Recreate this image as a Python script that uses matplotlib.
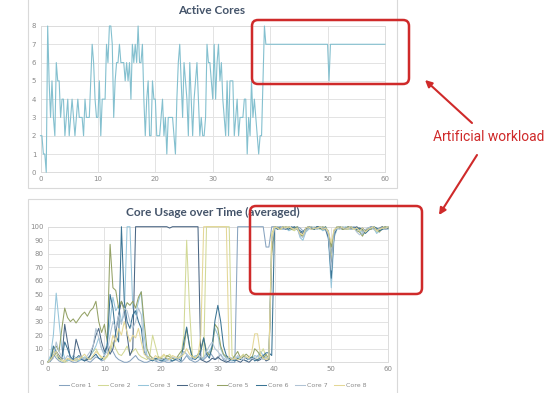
import numpy as np
import matplotlib
matplotlib.use("Agg")
import matplotlib.pyplot as plt
from matplotlib.patches import Rectangle, FancyBboxPatch, FancyArrowPatch
from matplotlib.transforms import IdentityTransform

#######################################
#### Data
#######################################
# Active cores, sampled every 0.25 s
ActiveStep = 0.25
ActiveCores = [
   2,2,1,1,0,8,5,3,5,3,2,6,5,5,3,4,4,2,3,4,
   2,3,4,3,2,3,4,3,3,3,2,4,3,3,3,5,7,6,4,3,
   3,5,2,4,4,4,7,6,8,8,7,3,5,6,6,7,6,6,6,5,
   6,5,6,4,7,6,7,6,8,6,6,7,4,2,4,5,2,2,5,4,
   4,2,2,2,3,4,2,3,1,3,3,3,3,2,1,4,6,7,5,3,
   6,5,4,2,6,4,2,4,5,6,4,2,3,2,2,3,7,6,6,5,
   4,7,4,6,7,5,6,4,3,2,5,2,5,5,5,2,3,4,2,3,
   3,3,4,4,1,3,2,5,3,4,3,2,1,2,2,5,8,
   7,7,7,7,7,7,7,7,7,7,7,7,7,7,7,7,7,7,7,7,7,7,
   7,7,7,7,7,7,7,7,7,7,7,7,7,7,7,7,7,7,7,7,7,7,
   5,
   7,7,7,7,7,7,7,7,7,7,7,7,7,7,7,7,7,7,7,7,
   7,7,7,7,7,7,7,7,7,7,7,7,7,7,7,7,7,7,7,
]

# Core usage (%), sampled every 0.5 s
UsageStep = 0.5
CoreNames = ["Core 1", "Core 2", "Core 3", "Core 4", "Core 5", "Core 6", "Core 7", "Core 8"]
Core1 = [0,2,6,3,1,0,0,2,1,0, 0,1,3,2,1,0,2,4,3,1, 2,5,12,8,4,2,1,0,0,1,
         3,5,2,1,0,0,1,2,1,0, 0,1,0,0,1,2,1,0,2,5, 2,1,0,1,3,2,4,8,5,2,
         3,6,2,1,0,0,0,100,100,100, 100,100,100,100,100,100,100,85,85,100,
         100,99,100,98,99,100,99,98,100,99, 97,98,100,99,99,100,99,98,99,97,
         80,96,99,100,99,99,98,99,100,99, 99,96,97,99,100,99,97,98,99,100, 99]
Core2 = [0,3,8,5,2,1,0,1,3,2, 1,2,4,3,2,5,8,10,6,3, 2,4,8,15,10,6,5,8,12,6,
         8,10,6,4,3,2,5,20,12,4, 3,5,4,6,3,2,3,5,20,90, 40,5,3,4,3,4,100,100,100,100,
         100,100,100,100,100,5,3,2,4,6, 3,2,4,3,2,6,10,4,2,95,
         100,99,98,100,99,100,98,97,99,95, 93,98,99,100,99,99,98,99,100,96,
         75,97,99,99,100,99,98,99,98,99, 99,97,96,98,99,98,96,99,100,99, 100]
Core3 = [0,5,20,51,30,10,3,1,2,5, 3,1,2,4,3,5,8,12,18,10, 6,15,30,48,38,42,30,35,100,100,
         40,35,45,52,20,5,3,2,1,3, 2,1,2,3,1,2,4,3,8,6, 3,2,5,4,2,3,6,8,12,25,
         20,10,5,3,2,1,2,4,3,2, 1,3,2,5,4,8,5,3,4,90,
         98,100,99,98,99,97,98,100,99,92, 90,96,98,99,100,98,99,97,98,90,
         55,92,98,99,99,100,99,98,99,98, 97,94,96,99,98,99,95,97,98,99, 98]
Core4 = [0,1,4,8,5,2,28,15,3,2, 17,10,3,1,2,5,12,20,25,15, 8,12,6,10,22,35,45,40,20,5,
         10,100,100,100,100,100,100,100,100,100, 100,100,100,99,100,100,100,100,100,100,
         100,100,100,100,2,1,0,1,3,2, 4,2,1,0,1,3,2,1,0,2, 1,0,2,3,1,2,4,1,2,85,
         100,99,100,99,98,100,99,100,98,96, 95,99,100,98,99,100,100,99,98,92,
         70,94,99,100,98,99,100,99,99,100, 98,99,97,98,100,99,98,99,100,98, 99]
Core5 = [0,2,10,12,8,25,40,33,30,32, 29,32,35,37,34,38,40,45,30,22, 28,15,87,55,53,40,45,38,44,42,
         45,40,48,52,30,10,5,3,2,4, 3,2,5,4,3,2,5,8,10,25, 12,4,3,6,10,18,8,5,10,28,
         25,12,6,4,3,2,5,8,3,4, 6,4,3,10,8,5,3,6,2,80,
         99,100,98,99,100,99,98,99,100,94, 93,97,99,100,98,99,99,100,99,95,
         85,97,100,99,98,99,100,98,99,97, 96,93,97,99,98,100,98,96,99,100, 99]
Core6 = [0,1,12,8,3,2,15,10,4,2, 3,5,2,1,3,2,4,6,3,2, 5,12,50,40,20,15,100,45,30,25,
         35,38,30,25,8,4,2,1,3,2, 1,2,3,2,1,2,3,1,15,26, 12,3,2,4,8,18,6,3,12,31,
         42,30,12,5,3,2,1,3,2,5, 3,2,4,1,2,3,5,7,7,5,
         100,98,99,100,99,98,100,99,99,97, 96,98,100,99,98,100,99,98,100,93,
         62,95,99,100,99,98,99,100,99,98, 99,98,95,97,99,100,99,97,98,99, 100]
Core7 = [0,1,3,15,8,4,2,5,3,1, 2,4,3,2,5,8,12,25,18,10, 5,8,20,30,25,35,28,40,38,30,
         25,30,40,35,10,4,2,3,1,2, 2,3,1,2,4,3,2,5,8,6, 4,2,3,5,4,3,8,12,15,10,
         8,5,3,2,4,3,2,5,3,2, 4,2,3,2,5,3,2,4,3,88,
         99,100,100,98,99,100,99,98,99,93, 92,97,99,100,99,98,100,99,99,94,
         68,96,99,98,100,99,99,98,99,96, 94,95,98,99,100,98,97,99,99,98, 100]
Core8 = [0,2,5,8,4,2,1,3,2,1, 3,2,4,6,3,2,5,8,6,4, 3,5,10,20,15,25,20,30,22,15,
         20,18,25,15,6,4,3,2,5,3, 4,6,3,2,5,4,3,4,6,10, 6,4,3,5,20,100,100,100,100,100,
         100,100,100,100,4,2,3,2,3,5, 4,3,8,21,21,6,3,2,4,92,
         100,99,98,100,99,100,99,98,99,95, 94,99,100,98,99,99,100,98,99,96,
         88,98,99,100,99,98,99,100,98,99, 97,99,96,98,99,100,97,98,99,99, 100]
CoreUsage = [Core1, Core2, Core3, Core4, Core5, Core6, Core7, Core8]
CoreColors = ["#87a3bf", "#d2d996", "#96c5da", "#4a6684", "#94a266", "#3a7494", "#b0c3d4", "#e4d796"]

#######################################
#### Figure
#######################################
W, H = 554, 393
fig = plt.figure(figsize=(W/100, H/100), dpi=100)
fig.patch.set_facecolor("white")
PIX = IdentityTransform()

def py(y):           # image y (top-down) --> display y
   return H - y

TitleClr = "#44546a"
TickClr = "#8a8a8a"
GridClr = "#e3e3e3"
RedClr = "#cf2a2a"

# chart panels (Excel chart area)
for (x0, y0, x1, y1) in [(28, -3, 397, 188), (28, 199, 397, 396)]:
   fig.add_artist(Rectangle((x0, py(y1)), x1-x0, y1-y0, transform=PIX,
                            facecolor="white", edgecolor="#d9d9d9", lw=0.8, zorder=0))

def style_axes(ax):
   ax.set_facecolor("none")
   ax.grid(True, color=GridClr, lw=0.7)
   ax.set_axisbelow(True)
   for s in ax.spines.values():
      s.set_color("#dcdcdc")
      s.set_linewidth(0.7)
      s.set_zorder(1)
   ax.tick_params(length=0, labelsize=5, colors=TickClr, pad=3)
   ax.set_xlim(0, 60)
   ax.set_xticks(range(0, 61, 10))

#### Active cores
ax1 = fig.add_axes([40.5/W, 1-172.3/H, (385-40.5)/W, (172.3-26)/H])
tA = np.arange(len(ActiveCores))*ActiveStep
ax1.plot(tA, ActiveCores, color="#84c0cf", lw=0.8, clip_on=False, zorder=3)
style_axes(ax1)
ax1.set_ylim(0, 8)
ax1.set_yticks(range(0, 9))
fig.text(212/W, 1-11/H, "Active Cores", ha="center", va="center",
         fontsize=8.5, fontweight="bold", family="Lato", color=TitleClr)

#### Core usage
ax2 = fig.add_axes([47.7/W, 1-362.3/H, (388-47.7)/W, (362.3-226.7)/H])
for name, vals, clr in zip(CoreNames, CoreUsage, CoreColors):
   tU = np.arange(len(vals))*UsageStep
   ax2.plot(tU, vals, color=clr, lw=0.75, label=name, clip_on=False, zorder=3)
style_axes(ax2)
ax2.set_ylim(0, 100)
ax2.set_yticks(range(0, 101, 10))
fig.text(213/W, 1-212/H, "Core Usage over Time (averaged)", ha="center", va="center",
         fontsize=8.5, fontweight="bold", family="Lato", color=TitleClr)
fig.legend(loc="center", bbox_to_anchor=(213/W, 1-385/H), ncol=8, frameon=False,
           fontsize=4.5, handlelength=1.6, handletextpad=0.3, columnspacing=1.1,
           labelcolor=TickClr)

#######################################
#### Annotation
#######################################
for (x0, y0, x1, y1) in [(252, 20, 409, 84), (250, 206, 422, 294)]:
   fig.add_artist(FancyBboxPatch((x0, py(y1)), x1-x0, y1-y0, transform=PIX,
                                 boxstyle="round,pad=0,rounding_size=6",
                                 facecolor="none", edgecolor=RedClr, lw=1.8, zorder=5))

fig.text(489/W, 1-137/H, "Artificial workload", ha="center", va="center",
         fontsize=10, family="Roboto", color=RedClr)

for (xa, ya, xb, yb) in [(472, 123, 425, 80), (477, 155, 439, 215)]:
   fig.add_artist(FancyArrowPatch((xa, py(ya)), (xb, py(yb)), transform=PIX,
                                  arrowstyle="-|>", mutation_scale=10,
                                  color=RedClr, lw=1.5, shrinkA=0, shrinkB=0, zorder=6))

fig.savefig("out.png", dpi=100)
